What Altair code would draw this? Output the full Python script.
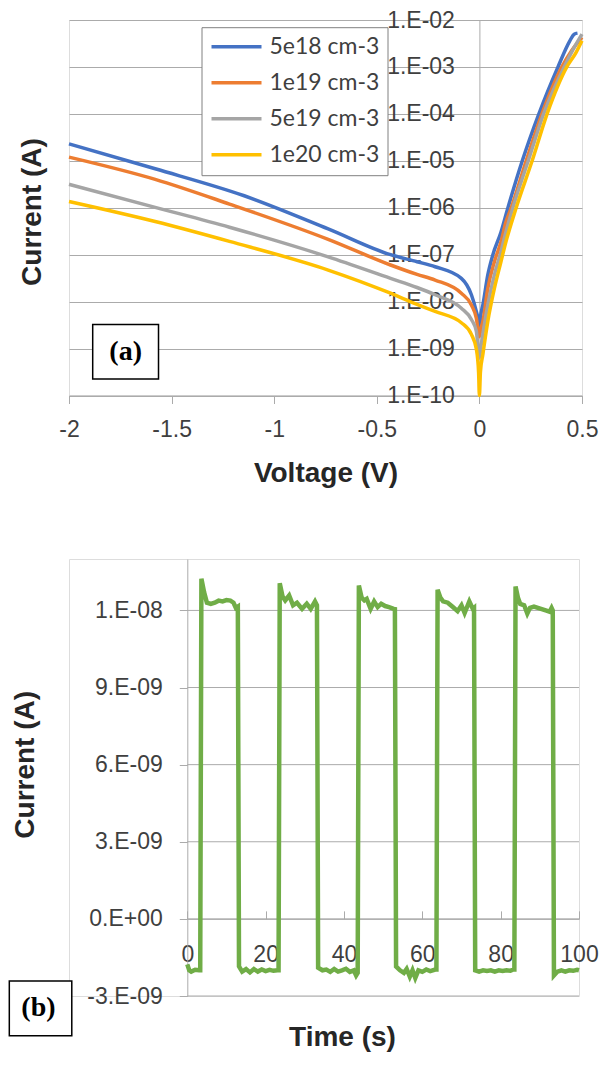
import altair as alt
import pandas as pd

FONT = "Lato"
SERIF = "Liberation Serif"
GRID = "#ababab"
TICK_TEXT = "#3f3f3f"
TITLE_TEXT = "#262626"

# ---------------- Panel (a): I-V curves (semi-log) ----------------
series_names = ["5e18 cm-3", "1e19 cm-3", "5e19 cm-3", "1e20 cm-3"]
series_colors = ["#4472C4", "#ED7D31", "#A5A5A5", "#FFC000"]

v_5e18 = [-2.0, -1.58, -1.146, -0.737, -0.433, -0.304, -0.216, -0.088, -0.039, -0.015, -0.004, 0.0,
          0.006, 0.017, 0.041, 0.065, 0.105, 0.137, 0.209, 0.289, 0.383, 0.44, 0.462, 0.478]
i_5e18 = [2.29e-5, 6.76e-6, 1.80e-6, 3.55e-7, 1.0e-7, 7.08e-8, 5.53e-8, 3.13e-8, 1.40e-8, 6.21e-9, 3.80e-9, 2.82e-9,
          5.0e-9, 8.51e-9, 3.72e-8, 9.77e-8, 3.02e-7, 9.33e-7, 1.0e-5, 9.77e-5, 1.0e-3, 3.55e-3, 5.0e-3, 5.25e-3]

v_1e19 = [-2.0, -1.58, -1.218, -0.737, -0.433, -0.304, -0.216, -0.088, -0.039, -0.015, 0.0,
          0.006, 0.017, 0.041, 0.073, 0.105, 0.129, 0.153, 0.228, 0.305, 0.402, 0.45, 0.5]
i_1e19 = [1.20e-5, 4.03e-6, 1.20e-6, 2.12e-7, 6.03e-8, 3.80e-8, 2.88e-8, 1.51e-8, 8.51e-9, 4.47e-9, 1.78e-9,
          2.51e-9, 3.80e-9, 1.91e-8, 7.08e-8, 1.86e-7, 4.90e-7, 9.33e-7, 1.0e-5, 1.0e-4, 1.0e-3, 2.24e-3, 4.27e-3]

v_5e19 = [-2.0, -1.58, -1.218, -0.737, -0.433, -0.304, -0.216, -0.088, -0.039, -0.015, 0.0,
          0.006, 0.017, 0.041, 0.073, 0.105, 0.129, 0.161, 0.238, 0.313, 0.413, 0.46, 0.5]
i_5e19 = [3.16e-6, 1.02e-6, 3.85e-7, 8.99e-8, 3.13e-8, 2.0e-8, 1.40e-8, 7.24e-9, 4.17e-9, 2.34e-9, 6.31e-10,
          1.0e-9, 2.04e-9, 8.51e-9, 3.72e-8, 1.15e-7, 3.02e-7, 9.33e-7, 1.0e-5, 1.0e-4, 1.0e-3, 2.51e-3, 5.01e-3]

v_1e20 = [-2.0, -1.58, -1.218, -0.737, -0.433, -0.304, -0.216, -0.088, -0.039, -0.015, -0.004, 0.0,
          0.005, 0.017, 0.041, 0.073, 0.105, 0.129, 0.177, 0.257, 0.33, 0.426, 0.47, 0.5]
i_1e20 = [1.36e-6, 5.09e-7, 1.92e-7, 4.71e-8, 1.51e-8, 8.71e-9, 6.17e-9, 3.55e-9, 2.0e-9, 9.77e-10, 3.16e-10, 1.0e-10,
          3.16e-10, 7.59e-10, 3.80e-9, 1.91e-8, 7.08e-8, 1.86e-7, 9.33e-7, 1.0e-5, 1.0e-4, 1.0e-3, 2.0e-3, 3.63e-3]

xticks_a = [-2, -1.5, -1, -0.5, 0, 0.5]
yticks_a = [1e-10, 1e-9, 1e-8, 1e-7, 1e-6, 1e-5, 1e-4, 1e-3, 1e-2]
ylabels_a = ["1.E-10", "1.E-09", "1.E-08", "1.E-07", "1.E-06", "1.E-05", "1.E-04", "1.E-03", "1.E-02"]

# ---------------- Panel (b): photo-response vs time ----------------
t_b = [0, 0.5, 1.0, 2.0, 3.0,
       3.3, 3.6, 4.3, 5.0, 6.0, 7.0, 8.0, 9.0, 10.0, 11.0, 11.8, 12.4, 12.9,
       13.2, 14.0, 15.0, 16.0, 17.0, 18.0, 19.0, 20.0, 21.0, 22.0, 23.0,
       23.3, 23.6, 24.3, 25.0, 26.0, 27.0, 28.0, 29.3, 30.5, 31.5, 32.6, 33.1,
       33.4, 34.5, 35.5, 36.5, 37.5, 38.5, 39.5, 40.5, 41.5, 42.5, 43.1,
       43.5, 43.8, 44.5, 45.2, 45.8, 46.8, 47.7, 48.6, 49.5, 50.5, 51.5, 52.7, 53.0,
       53.3, 54.3, 55.3, 56.0, 56.8, 57.5, 58.2, 59.0, 60.0, 61.0, 62.0, 63.3,
       63.6, 63.9, 64.6, 65.3, 66.5, 67.8, 69.0, 70.0, 70.8, 72.0, 72.9, 73.2,
       73.5, 74.5, 75.5, 76.5, 77.5, 78.5, 79.5, 80.5, 81.5, 82.5, 83.2,
       83.5, 83.8, 84.4, 85.0, 86.0, 86.8, 87.5, 88.5, 89.5, 90.5, 91.5, 92.5, 93.0, 93.3,
       93.6, 94.5, 95.5, 96.5, 97.5, 98.5, 99.5, 100.0]
i_b_nA = [-1.77, -2.0, -2.05, -1.98, -2.0,
          -2.0, 13.23, 12.7, 12.3, 12.25, 12.3, 12.38, 12.35, 12.4, 12.38, 12.3, 12.1, 12.15,
          -1.85, -2.05, -1.95, -2.08, -1.95, -2.05, -1.97, -2.03, -1.98, -2.02, -2.0,
          -2.0, 13.06, 12.55, 12.39, 12.58, 12.2, 12.3, 12.06, 12.26, 12.06, 12.35, 12.2,
          -1.9, -2.0, -1.97, -2.06, -1.95, -2.05, -2.0, -1.94, -2.06, -2.0, -2.2,
          -2.1, 12.97, 12.5, 12.39, 12.45, 12.06, 12.35, 12.13, 12.26, 12.17, 12.13, 12.06, 12.05,
          -1.85, -2.0, -2.1, -1.95, -2.25, -2.0, -2.3, -2.0, -2.06, -1.97, -2.03, -1.97,
          -1.97, 12.8, 12.5, 12.35, 12.3, 12.13, 11.97, 12.2, 11.9, 12.35, 12.06, 12.1,
          -2.0, -2.05, -2.0, -2.03, -2.0, -2.05, -2.0, -2.03, -2.0, -2.02, -1.97,
          -1.97, 12.93, 12.5, 12.25, 12.2, 11.88, 12.1, 12.15, 12.1, 12.05, 12.0, 11.95, 12.1, 12.0,
          -2.2, -2.05, -2.0, -2.05, -2.0, -2.02, -1.98, -2.0]

xticks_b = [0, 20, 40, 60, 80, 100]
yticks_b = [-3, 0, 3, 6, 9, 12]
ylabels_b = ["-3.E-09", "0.E+00", "3.E-09", "6.E-09", "9.E-09", "1.E-08"]

# ---------------- annotation boxes (data coordinates) ----------------
box_a = {"V": -1.8845, "V2": -1.5638, "I": 2.25e-10, "I2": 3.26e-9}
label_a = {"V": -1.724, "I": 8.57e-10, "txt": "(a)"}
edge_a = {"V": -2.291, "I": 1e-6}
box_b = {"t": -45.44, "t2": -29.49, "n": -4.55, "n2": -2.42}
label_b = {"t": -38.0, "n": -3.48, "txt": "(b)"}

# ---------------- layout (pixels) ----------------
W_A, H_A = 513, 375.5
W_B, H_B = 510, 437
B_X0, B_X1 = 118.3, 510.0          # where panel (b)'s time axis starts / ends


def label_expr(values, labels, rel):
    parts = []
    for v, l in zip(values, labels):
        if rel:
            cond = f"abs(datum.value / {v!r} - 1) < 1e-6"
        else:
            cond = f"abs(datum.value - ({v!r})) < 1e-6"
        parts.append(f"{cond} ? '{l}'")
    return " : ".join(parts) + " : ''"


rows = []
for name, vs, cs in zip(series_names, [v_5e18, v_1e19, v_5e19, v_1e20],
                        [i_5e18, i_1e19, i_5e19, i_1e20]):
    for v, c in zip(vs, cs):
        rows.append({"series": name, "V": v, "I": c})
df_a = pd.DataFrame(rows)

xs_a = alt.Scale(domain=[-2, 0.5], nice=False, zero=False)
ys_a = alt.Scale(type="log", domain=[1e-10, 1e-2], nice=False)

lines_a = alt.Chart(df_a).mark_line(strokeWidth=3.5, interpolate="monotone").encode(
    x=alt.X("V:Q", scale=xs_a, axis=alt.Axis(
        values=xticks_a, labelExpr="datum.value + ''", grid=False, tickSize=8,
        tickColor=GRID, domainColor=GRID, labelFlush=False, labelPadding=15,
        labelFontSize=23, labelColor=TICK_TEXT, title="Voltage (V)",
        titleFontSize=28, titleFontWeight="bold", titleColor=TITLE_TEXT, titlePadding=18)),
    y=alt.Y("I:Q", scale=ys_a, axis=alt.Axis(
        values=yticks_a, labelExpr=label_expr(yticks_a, ylabels_a, True),
        offset=-W_A * 0.8, tickSize=0, labelPadding=25, domainColor=GRID,
        gridColor=GRID, labelFontSize=23, labelColor=TICK_TEXT,
        title="Current (A)", titleFontSize=28, titleFontWeight="bold", titleColor=TITLE_TEXT,
        titleX=-36.7 - W_A * 0.8, titleY=191.5, titleAngle=270,
        titleAlign="center", titleBaseline="middle")),
    color=alt.Color("series:N", scale=alt.Scale(domain=series_names, range=series_colors),
                    sort=series_names,
                    legend=alt.Legend(title=None, orient="none", legendX=132.5, legendY=7.2,
                                      direction="vertical", symbolType="stroke",
                                      symbolStrokeWidth=3.5, symbolSize=2500, clipHeight=23,
                                      labelFontSize=23, labelFont=FONT, labelColor=TICK_TEXT,
                                      labelOffset=6, padding=8, rowPadding=12,
                                      strokeColor="#808080", fillColor="white")),
)

rect_a = alt.Chart(pd.DataFrame([box_a])).mark_rect(
    fill="white", stroke="black", strokeWidth=1.5).encode(
    x="V:Q", x2="V2:Q", y="I:Q", y2="I2:Q")
text_a = alt.Chart(pd.DataFrame([label_a])).mark_text(
    font=SERIF, fontWeight="bold", fontSize=28, color="black").encode(
    x="V:Q", y="I:Q", text="txt:N")
edge_pt = alt.Chart(pd.DataFrame([edge_a])).mark_point(opacity=0, size=1).encode(
    x="V:Q", y="I:Q")

panel_a = alt.layer(lines_a, rect_a, text_a, edge_pt).properties(width=W_A, height=H_A)

df_b = pd.DataFrame({"t": t_b, "n": i_b_nA})
xs_b = alt.Scale(domain=[0, 100], range=[B_X0, B_X1], nice=False, zero=False)
ys_b = alt.Scale(domain=[-3, 14], nice=False, zero=False)
zero_px = H_B * 14 / 17

grid_b = alt.Chart(pd.DataFrame({"n": yticks_b})).mark_rule(color=GRID, strokeWidth=1).encode(
    y=alt.Y("n:Q", scale=ys_b), x=alt.datum(0, scale=xs_b), x2=alt.datum(100))

line_b = alt.Chart(df_b).mark_line(color="#70AD47", strokeWidth=4.5).encode(
    x=alt.X("t:Q", scale=xs_b, axis=alt.Axis(
        orient="top", offset=-zero_px, values=xticks_b, grid=False, tickSize=8,
        tickColor=GRID, domainColor=GRID, labelFlush=False, labelPadding=-44,
        labelBaseline="middle", labelFontSize=23, labelColor=TICK_TEXT,
        title="Time (s)", titleFontSize=28, titleFontWeight="bold", titleColor=TITLE_TEXT,
        titleX=273, titleY=119, titleAlign="center", titleBaseline="middle")),
    y=alt.Y("n:Q", scale=ys_b, axis=alt.Axis(
        values=yticks_b, labelExpr=label_expr(yticks_b, ylabels_b, False),
        offset=-B_X0, grid=False,
        tickSize=8, tickColor=GRID, labelPadding=17, domainColor=GRID,
        labelFontSize=23, labelColor=TICK_TEXT,
        title="Current (A)", titleFontSize=28, titleFontWeight="bold", titleColor=TITLE_TEXT,
        titleX=-162, titleY=205.3, titleAngle=270, titleAlign="center", titleBaseline="middle")),
)
rect_b = alt.Chart(pd.DataFrame([box_b])).mark_rect(
    fill="white", stroke="black", strokeWidth=1.5).encode(
    x="t:Q", x2="t2:Q", y="n:Q", y2="n2:Q")
text_b = alt.Chart(pd.DataFrame([label_b])).mark_text(
    font=SERIF, fontWeight="bold", fontSize=28, color="black").encode(
    x="t:Q", y="n:Q", text="txt:N")

panel_b = alt.layer(grid_b, line_b, rect_b, text_b).properties(width=W_B, height=H_B)

chart = alt.vconcat(panel_a, panel_b, spacing=70).properties(
    padding=0
).configure_view(stroke=None).configure_axis(
    labelFont=FONT, titleFont=FONT
).configure(background="white")

chart.save("out.html", embed_options={"renderer": "svg", "actions": False})
